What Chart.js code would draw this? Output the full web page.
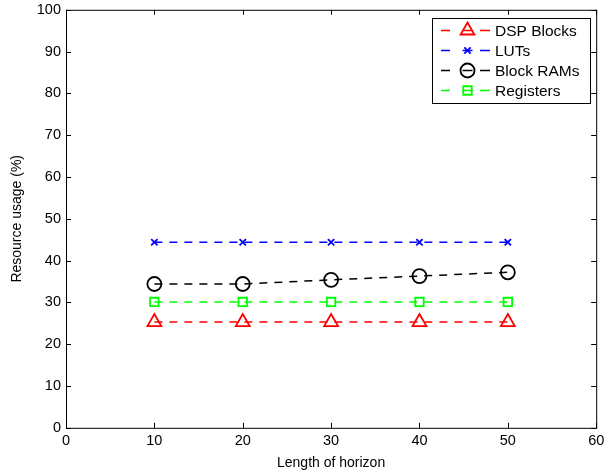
<!DOCTYPE html>
<html><head><meta charset="utf-8">
<script src="https://cdn.jsdelivr.net/npm/chart.js@4"></script>
<style>html,body{margin:0;padding:0;background:#fff}#wrap{width:606px;height:474px}</style>
</head><body><div id="wrap"><canvas id="c" width="606" height="474"></canvas></div>
<script>
const horizon = [10, 20, 30, 40, 50];
const dspBlocks = [25.3, 25.3, 25.3, 25.3, 25.3];
const luts = [44.4, 44.4, 44.4, 44.4, 44.4];
const blockRams = [34.4, 34.4, 35.4, 36.3, 37.2];
const registers = [30.1, 30.1, 30.1, 30.1, 30.1];
const xTicks = [0, 10, 20, 30, 40, 50, 60];
const yTicks = [0, 10, 20, 30, 40, 50, 60, 70, 80, 90, 100];

const FONT = '"Liberation Sans", Arial, sans-serif';
const pts = arr => arr.map((v, i) => ({x: horizon[i], y: v}));

function ds(label, data, color, style, r) {
  return {label, data: pts(data), borderColor: color, backgroundColor: 'rgba(0,0,0,0)',
    borderWidth: 1.5, borderDash: [8, 7], pointStyle: style, pointRadius: r,
    pointBorderWidth: 1.8, pointBorderColor: color, pointBackgroundColor: 'rgba(0,0,0,0)', showLine: true, tension: 0};
}
const datasets = [
  ds('DSP Blocks', dspBlocks, '#ff0000', 'triangle', 8),
  ds('LUTs', luts, '#0000ff', 'crossRot', 4.5),
  ds('Block RAMs', blockRams, '#000000', 'circle', 7),
  ds('Registers', registers, '#00ff00', 'rect', 6)
];

const frame = {
  id: 'frame',
  afterDraw(chart) {
    const ctx = chart.ctx, a = chart.chartArea;
    const xs = chart.scales.x, ys = chart.scales.y;
    ctx.save();
    ctx.strokeStyle = '#000'; ctx.lineWidth = 1;
    ctx.strokeRect(a.left + 0.5, a.top + 0.5, a.right - a.left, a.bottom - a.top);
    ctx.beginPath();
    xTicks.forEach(v => {
      const px = Math.round(xs.getPixelForValue(v)) + 0.5;
      ctx.moveTo(px, a.bottom); ctx.lineTo(px, a.bottom - 5);
      ctx.moveTo(px, a.top); ctx.lineTo(px, a.top + 5);
    });
    yTicks.forEach(v => {
      const py = Math.round(ys.getPixelForValue(v)) + 0.5;
      ctx.moveTo(a.left, py); ctx.lineTo(a.left + 5, py);
      ctx.moveTo(a.right, py); ctx.lineTo(a.right - 5, py);
    });
    ctx.stroke();
    // legend
    const lx = 432, ly = 18, lw = 158, lh = 85;
    ctx.fillStyle = '#fff';
    ctx.fillRect(lx, ly, lw, lh);
    ctx.strokeRect(lx + 0.5, ly + 0.5, lw, lh);
    ctx.font = '15.5px ' + FONT;
    ctx.textBaseline = 'middle';
    chart.data.datasets.forEach((d, i) => {
      const y = ly + 12.5 + i * 20;
      const mx = lx + 35.5;
      ctx.setLineDash([]);
      ctx.strokeStyle = d.borderColor; ctx.lineWidth = 1.5;
      ctx.beginPath();
      ctx.moveTo(lx + 9, y); ctx.lineTo(lx + 18, y);
      ctx.moveTo(mx - 5, y); ctx.lineTo(mx + 5, y);
      ctx.moveTo(lx + 48, y); ctx.lineTo(lx + 58, y);
      ctx.stroke();
      ctx.lineWidth = 1.8;
      ctx.fillStyle = 'rgba(0,0,0,0)';
      Chart.helpers.drawPoint(ctx, {pointStyle: d.pointStyle, radius: d.pointRadius, rotation: 0, borderWidth: 1.8}, mx, y);
      ctx.fillStyle = '#000';
      ctx.fillText(d.label, lx + 63, y + 1);
    });
    ctx.restore();
  }
};

new Chart(document.getElementById('c'), {
  type: 'scatter',
  data: {datasets},
  options: {
    responsive: false, animation: false, devicePixelRatio: 1,
    layout: {padding: {left: 9, right: 9, top: 9, bottom: 0}},
    plugins: {legend: {display: false}, tooltip: {enabled: false}},
    scales: {
      x: {type: 'linear', min: 0, max: 60,
        afterBuildTicks: s => { s.ticks = xTicks.map(v => ({value: v})); },
        afterFit: s => { s.paddingLeft = 0; s.paddingRight = 0; },
        grid: {display: false, drawTicks: false}, border: {display: false},
        ticks: {color: '#000', font: {size: 14.5, family: FONT}, padding: 4, maxRotation: 0},
        title: {display: true, text: 'Length of horizon', color: '#000', font: {size: 14, family: FONT}, padding: {top: 2, bottom: 2}}},
      y: {type: 'linear', min: 0, max: 100,
        afterBuildTicks: s => { s.ticks = yTicks.map(v => ({value: v})); },
        afterFit: s => { s.width = 57; s.paddingTop = 0; s.paddingBottom = 0; },
        grid: {display: false, drawTicks: false}, border: {display: false},
        ticks: {color: '#000', font: {size: 14.5, family: FONT}, padding: 5},
        title: {display: true, text: 'Resource usage (%)', color: '#000', font: {size: 14, family: FONT}, padding: {top: 0, bottom: 8}}}
    }
  },
  plugins: [frame]
});
</script></body></html>
